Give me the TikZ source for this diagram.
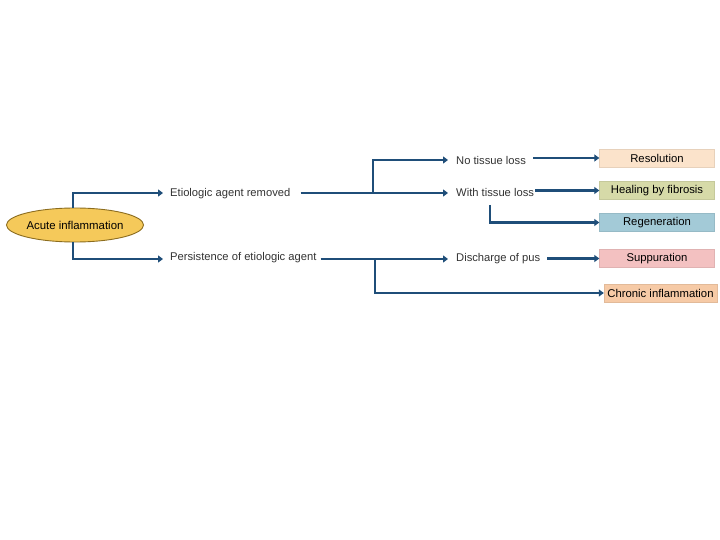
\documentclass[tikz,border=0pt]{standalone}
\usepackage{fontspec}
\setmainfont{Liberation Sans}
\usetikzlibrary{shapes.geometric,arrows.meta}
\definecolor{navy}{HTML}{1F4E79}
\definecolor{goldfill}{HTML}{F5C95A}
\definecolor{goldline}{HTML}{8C6D1F}
\definecolor{resfill}{HTML}{FBE3CB}
\definecolor{healfill}{HTML}{D6DAA8}
\definecolor{regfill}{HTML}{A3CAD7}
\definecolor{supfill}{HTML}{F3C1C1}
\definecolor{chrfill}{HTML}{F6CAA6}
\definecolor{lbltext}{HTML}{333333}
\tikzset{
  conn/.style={draw=navy, line width=2.7pt, -{Triangle[length=5pt,width=7pt]}},
  plainline/.style={draw=navy, line width=2.7pt},
  lbl/.style={anchor=west, inner sep=0pt, text=lbltext, font=\fontsize{11.2}{12}\selectfont},
  outbox/.style={minimum width=115pt, minimum height=18pt, inner sep=0pt, text=black, font=\fontsize{11.3}{12}\selectfont},
}
\begin{document}
\begin{tikzpicture}[x=1pt,y=-1pt]
\useasboundingbox[fill=white] (0,0) rectangle (720,540);
% main ellipse
\node[ellipse, draw=goldline, line width=0.9pt, fill=goldfill, minimum width=135pt, minimum height=34pt, inner sep=0pt, font=\fontsize{11.4}{12}\selectfont] (acute) at (75,225) {Acute inflammation};
% labels
\node[lbl] (e1) at (170,194) {Etiologic agent removed};
\node[lbl] (e2) at (170,258) {Persistence of etiologic agent};
\node[lbl] (n1) at (456,160) {No tissue loss};
\node[lbl] (n2) at (456,192) {With tissue loss};
\node[lbl] (n3) at (456,259) {Discharge of pus};
% outcome boxes
\node[outbox, fill=resfill, draw=resfill!92!black, line width=0.4pt] (r1) at (657,158) {Resolution};
\node[outbox, fill=healfill, draw=healfill!92!black, line width=0.4pt] (r2) at (657,190.5) {Healing by fibrosis};
\node[outbox, fill=regfill, draw=regfill!92!black, line width=0.4pt] (r3) at (657,222.5) {Regeneration};
\node[outbox, fill=supfill, draw=supfill!92!black, line width=0.4pt] (r4) at (657,258.5) {Suppuration};
\node[outbox, minimum width=113pt, fill=chrfill, draw=chrfill!92!black, line width=0.4pt] (r5) at (660.5,293) {Chronic inflammation};
% branch points
\coordinate (s1) at (373,193);
\coordinate (s2) at (375,259);
\coordinate (c2) at (490,205);
% connectors
\draw[conn] ([xshift=-2pt]acute.north) |- ([xshift=-7pt]e1.west |- s1);
\draw[conn] ([xshift=-2pt]acute.south) |- ([xshift=-7pt]e2.west |- s2);
\draw[plainline] ([xshift=10pt]e1.east |- s1) -- (s1);
\draw[conn] (s1) |- ([xshift=-8pt]n1.west);
\draw[conn] (s1) -- ([xshift=-8pt]n2.west |- s1);
\draw[conn] ([xshift=7pt]n1.east |- r1.west) -- (r1.west);
\draw[conn] ([xshift=1pt]n2.east |- r2.west) -- (r2.west);
\draw[conn] (c2) |- (r3.west);
\draw[conn] ([xshift=4pt]e2.east |- s2) -- ([xshift=-8pt]n3.west |- s2);
\draw[conn] (s2) |- (r5.west);
\draw[conn] ([xshift=7pt]n3.east |- r4.west) -- (r4.west);
\end{tikzpicture}
\end{document}
